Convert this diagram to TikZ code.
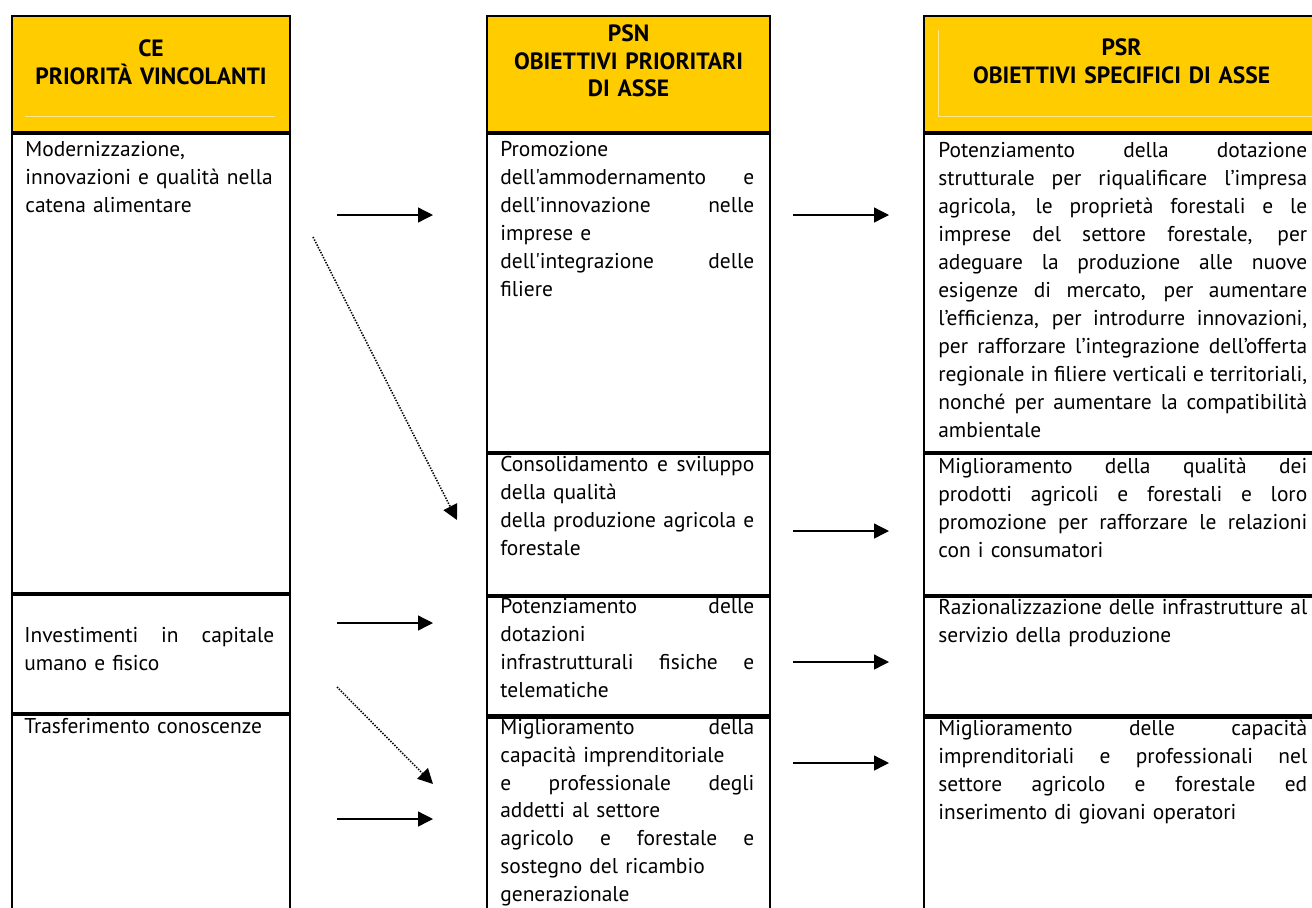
\documentclass[tikz,border=0pt]{standalone}
\usepackage{fontspec}
\newfontfamily\ptsans{PT Sans}
\usetikzlibrary{arrows.meta,positioning}
\definecolor{headyellow}{RGB}{255,204,0}
\newcommand\jl[1]{{\spaceskip=0pt\xspaceskip=0pt\makebox[\jlw][s]{#1}}}
\def\jlw{5cm}

\begin{document}
\begin{tikzpicture}[x=0.02cm,y=-0.02cm,>={Triangle[length=0.3cm,width=0.3cm]},
    cell/.style 2 args={draw,line width=1.2pt,anchor=north west,inner sep=0pt,
      minimum width=#1*0.02cm,minimum height=#2*0.02cm},
    head/.style={fill=headyellow},
    headtxt/.style={inner sep=0pt,anchor=north,align=center,text width=#1,
      font=\ptsans\bfseries\fontsize{13.4}{15.6}\selectfont},
    bodytxt/.style={inner sep=0pt,anchor=north west,align=left,text width=#1+0.4cm,
      execute at begin node={\def\jlw{#1}},
      font=\ptsans\fontsize{12.2}{15.95}\selectfont},
    link/.style={->,line width=0.75pt},
    hint/.style={->,line width=0.9pt,dash pattern=on 0.8pt off 0.8pt}]
    \useasboundingbox (0,0) rectangle (1312,907);

    % Column CE
    \node[cell={278}{116},head] (ceh) at (11,15) {};
    \node[cell={278}{459}] (ce1) at (ceh.south west) {};
    \node[cell={278}{118}] (ce2) at (ce1.south west) {};
    \node[cell={278}{204}] (ce3) at (ce2.south west) {};

    % Column PSN
    \node[cell={283}{116},head] (psnh) at (486,15) {};
    \node[cell={283}{318}] (psn1) at (psnh.south west) {};
    \node[cell={283}{141}] (psn2) at (psn1.south west) {};
    \node[cell={283}{118}] (psn3) at (psn2.south west) {};
    \node[cell={283}{204}] (psn4) at (psn3.south west) {};

    % Column PSR
    \node[cell={395}{116},head] (psrh) at (923,15) {};
    \node[cell={395}{318}] (psr1) at (psrh.south west) {};
    \node[cell={395}{141}] (psr2) at (psr1.south west) {};
    \node[cell={395}{118}] (psr3) at (psr2.south west) {};
    \node[cell={395}{204}] (psr4) at (psr3.south west) {};

    % faint frames inside the headers
    \draw[headyellow!45!white,line width=0.4pt] (25,116) -- (275,116);
    \draw[headyellow!45!white,line width=0.4pt] (938,30) -- (938,116) -- (1312,116);

    % Header texts
    \node[headtxt=5.4cm,below=0.49cm of ceh.north] (ceht) {CE\\PRIORITÀ VINCOLANTI};
    \node[headtxt=5.4cm,below=0.19cm of psnh.north] (psnht) {PSN\\OBIETTIVI PRIORITARI\\DI ASSE};
    \node[headtxt=7.6cm,below=0.47cm of psrh.north] (psrht) {PSR\\OBIETTIVI SPECIFICI DI ASSE};

    % Texts of column CE
    \node[bodytxt=5cm,below right=0.16cm and 0.28cm of ce1.north west] (ce1t)
      {Modernizzazione,\\innovazioni e qualità nella\\catena alimentare};
    \node[bodytxt=5cm,below right=0.66cm and 0.26cm of ce2.north west] (ce2t)
      {\jl{Investimenti in capitale}\\umano e fisico};
    \node[bodytxt=5cm,below right=0.08cm and 0.26cm of ce3.north west] (ce3t)
      {Trasferimento conoscenze};

    % Texts of column PSN
    \node[bodytxt=5.08cm,below right=0.16cm and 0.28cm of psn1.north west] (psn1t)
      {Promozione\\\jl{dell'ammodernamento e}\\\jl{dell'innovazione nelle}\\imprese e\\
       \jl{dell'integrazione delle}\\filiere};
    \node[bodytxt=5.08cm,below right=0.06cm and 0.28cm of psn2.north west] (psn2t)
      {\jl{Consolidamento e sviluppo}\\della qualità\\\jl{della produzione agricola e}\\forestale};
    \node[bodytxt=5.08cm,below right=0.04cm and 0.28cm of psn3.north west] (psn3t)
      {\jl{Potenziamento delle}\\dotazioni\\\jl{infrastrutturali fisiche e}\\telematiche};
    \node[bodytxt=5.08cm,below right=0.06cm and 0.28cm of psn4.north west,
      font=\ptsans\fontsize{12.2}{15.75}\selectfont] (psn4t)
      {\jl{Miglioramento della}\\capacità imprenditoriale\\\jl{e professionale degli}\\
       addetti al settore\\\jl{agricolo e forestale e}\\sostegno del ricambio\\generazionale};

    % Texts of column PSR
    \node[bodytxt=7.38cm,below right=0.18cm and 0.30cm of psr1.north west] (psr1t)
      {\jl{Potenziamento della dotazione}\\
       \jl{strutturale per riqualificare l’impresa}\\
       \jl{agricola, le proprietà forestali e le}\\
       \jl{imprese del settore forestale, per}\\
       \jl{adeguare la produzione alle nuove}\\
       \jl{esigenze di mercato, per aumentare}\\
       \jl{l’efficienza, per introdurre innovazioni,}\\
       \jl{per rafforzare l’integrazione dell’offerta}\\
       \jl{regionale in filiere verticali e territoriali,}\\
       \jl{nonché per aumentare la compatibilità}\\
       ambientale};
    \node[bodytxt=7.38cm,below right=0.08cm and 0.30cm of psr2.north west] (psr2t)
      {\jl{Miglioramento della qualità dei}\\
       \jl{prodotti agricoli e forestali e loro}\\
       \jl{promozione per rafforzare le relazioni}\\
       con i consumatori};
    \node[bodytxt=7.38cm,below right=0.06cm and 0.30cm of psr3.north west] (psr3t)
      {\jl{Razionalizzazione delle infrastrutture al}\\servizio della produzione};
    \node[bodytxt=7.38cm,below right=0.07cm and 0.30cm of psr4.north west] (psr4t)
      {\jl{Miglioramento delle capacità}\\
       \jl{imprenditoriali e professionali nel}\\
       \jl{settore agricolo e forestale ed}\\
       inserimento di giovani operatori};

    % Arrow ends
    \coordinate (c1a) at (337,215);  \coordinate (c1b) at (433,215);
    \coordinate (c1c) at (313,237);  \coordinate (c1d) at (457,520);
    \coordinate (c2a) at (337,623);  \coordinate (c2b) at (433,623);
    \coordinate (c2c) at (337,687);  \coordinate (c2d) at (433,784);
    \coordinate (c3a) at (337,819);  \coordinate (c3b) at (433,819);
    \coordinate (p1a) at (793,215);  \coordinate (p1b) at (889,215);
    \coordinate (p2a) at (793,531);  \coordinate (p2b) at (889,531);
    \coordinate (p3a) at (793,662);  \coordinate (p3b) at (889,662);
    \coordinate (p4a) at (793,763);  \coordinate (p4b) at (889,763);

    % Arrows CE -> PSN
    \draw[link] (c1a) -- (c1b);
    \draw[hint] (c1c) -- (c1d);
    \draw[link] (c2a) -- (c2b);
    \draw[hint] (c2c) -- (c2d);
    \draw[link] (c3a) -- (c3b);

    % Arrows PSN -> PSR
    \draw[link] (p1a) -- (p1b);
    \draw[link] (p2a) -- (p2b);
    \draw[link] (p3a) -- (p3b);
    \draw[link] (p4a) -- (p4b);
\end{tikzpicture}
\end{document}
